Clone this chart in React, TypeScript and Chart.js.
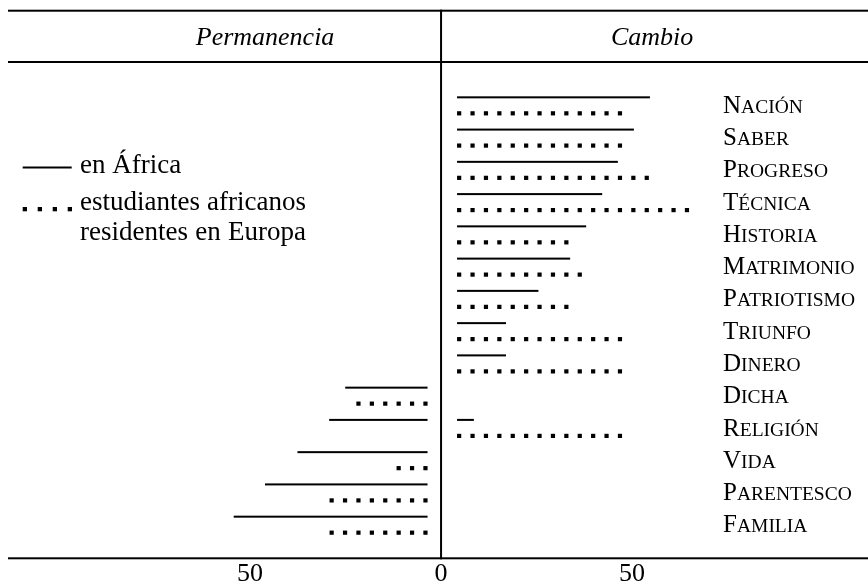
import { useEffect, useRef } from "react";
import { Chart, registerables } from "chart.js";

Chart.register(...registerables);

// ---- data ----
const categories = [
  "Nación", "Saber", "Progreso", "Técnica", "Historia", "Matrimonio", "Patriotismo",
  "Triunfo", "Dinero", "Dicha", "Religión", "Vida", "Parentesco", "Familia",
];
const cambioAfrica = [54.7, 50.5, 46.3, 42.2, 38.0, 33.8, 25.5, 17.0, 17.0, null, 8.6, null, null, null];
const cambioEuropa = [48.9, 48.9, 55.4, 64.6, 34.4, 38.6, 34.4, 47.1, 47.1, null, 47.1, null, null, null];
const permanenciaAfrica = [null, null, null, null, null, null, null, null, null, -25.1, -29.3, -37.6, -46.1, -54.3];
const permanenciaEuropa = [null, null, null, null, null, null, null, null, null, -23.2, null, -12.7, -29.4, -29.4];
const xTicks = [-50, 0, 50];
const panelTitles = ["Permanencia", "Cambio"];
const legendAfrica = ["en África"];
const legendEuropa = ["estudiantes africanos", "residentes en Europa"];

const SERIF = '"Liberation Serif", "Times New Roman", serif';

function drawSmallCaps(ctx: CanvasRenderingContext2D, text: string, x: number, y: number) {
  const first = text.charAt(0).toUpperCase();
  const rest = text.slice(1).toUpperCase();
  ctx.font = `25px ${SERIF}`;
  ctx.fillText(first, x, y);
  const w = ctx.measureText(first).width;
  ctx.font = `19.5px ${SERIF}`;
  ctx.fillText(rest, x + w, y);
}

const customDraw = {
  id: "customDraw",
  afterDraw(chart: any) {
    const ctx: CanvasRenderingContext2D = chart.ctx;
    const xs = chart.scales.x;
    const ys = chart.scales.y;
    const zero = xs.getPixelForValue(0);
    const W = chart.width;
    ctx.save();
    ctx.fillStyle = "#000";

    // rules
    const HEADER_Y = 62;
    ctx.fillRect(8, 9.7, W - 8, 2);
    ctx.fillRect(8, HEADER_Y - 1, W - 8, 2);
    ctx.fillRect(8, 557.3, W - 8, 2);
    ctx.fillRect(zero - 1, 9.7, 2, 549.6);

    // headers
    ctx.font = `italic 26px ${SERIF}`;
    ctx.textAlign = "center";
    ctx.textBaseline = "alphabetic";
    ctx.fillText(panelTitles[0], zero - 176, 45);
    ctx.fillText(panelTitles[1], zero + 211, 45);

    // bars: solid lines and dotted rows
    const GAP_R = 16;
    const GAP_L = 13.5;
    const PERIOD = 13.4;
    const DOT = 4.2;
    chart.data.datasets.forEach((ds: any, di: number) => {
      const meta = chart.getDatasetMeta(di);
      meta.data.forEach((el: any, j: number) => {
        const v = ds.data[j];
        if (v == null) return;
        const dir = v >= 0 ? 1 : -1;
        const start = el.base + dir * (dir > 0 ? GAP_R : GAP_L);
        const end = el.x;
        if (ds.lineStyle === "solid") {
          const a = Math.min(start, end);
          const b = Math.max(start, end);
          ctx.fillRect(a, el.y - 1, b - a, 2);
        } else {
          for (let k = 0; k < 100; k++) {
            const p = start + dir * k * PERIOD;
            const far = p + dir * DOT;
            if (dir * (far - end) > 1.5) break;
            ctx.fillRect(dir > 0 ? p : p - DOT, el.y - DOT / 2, DOT, DOT);
          }
        }
      });
    });

    // category labels (small caps)
    ctx.textAlign = "left";
    categories.forEach((c, i) => {
      const y = ys.getPixelForValue(i);
      drawSmallCaps(ctx, c, zero + 282, y + 7.6);
    });

    // legend
    ctx.fillRect(22.7, 166.5, 49, 2);
    for (let k = 0; k < 4; k++) ctx.fillRect(22.7 + k * 15, 207, 4.3, 4.3);
    ctx.font = `27px ${SERIF}`;
    ctx.fillText(legendAfrica[0], 80, 173);
    const targetW = 226;
    const baselines = [210, 240];
    legendEuropa.forEach((line, li) => {
      const words = line.split(" ");
      const widths = words.map((w) => ctx.measureText(w).width);
      const sum = widths.reduce((s, w) => s + w, 0);
      const space = ctx.measureText(" ").width;
      let gap = words.length > 1 ? (targetW - sum) / (words.length - 1) : 0;
      if (gap < space) gap = space;
      let x = 80;
      words.forEach((w, wi) => {
        ctx.fillText(w, x, baselines[li]);
        x += widths[wi] + gap;
      });
    });

    ctx.restore();
  },
};

export default function App() {
  const ref = useRef<HTMLCanvasElement | null>(null);
  useEffect(() => {
    document.body.style.margin = "0";
    const canvas = ref.current;
    if (!canvas) return;
    const chart = new Chart(canvas, {
      type: "bar",
      data: {
        labels: categories,
        datasets: [
          { label: legendAfrica[0], data: cambioAfrica, stack: "africa", lineStyle: "solid", backgroundColor: "rgba(0,0,0,0)", borderWidth: 0 } as any,
          { label: legendAfrica[0], data: permanenciaAfrica, stack: "africa", lineStyle: "solid", backgroundColor: "rgba(0,0,0,0)", borderWidth: 0 } as any,
          { label: legendEuropa.join(" "), data: cambioEuropa, stack: "europa", lineStyle: "dotted", backgroundColor: "rgba(0,0,0,0)", borderWidth: 0 } as any,
          { label: legendEuropa.join(" "), data: permanenciaEuropa, stack: "europa", lineStyle: "dotted", backgroundColor: "rgba(0,0,0,0)", borderWidth: 0 } as any,
        ],
      },
      options: {
        indexAxis: "y",
        animation: false,
        responsive: false,
        devicePixelRatio: 1,
        categoryPercentage: 0.992,
        barPercentage: 1,
        layout: { padding: { left: 8, right: 0, top: 89.2, bottom: 0 } },
        plugins: { legend: { display: false }, tooltip: { enabled: false }, title: { display: false } },
        scales: {
          x: {
            type: "linear",
            stacked: false,
            min: -113.4,
            max: 111.8,
            grid: { display: false, drawTicks: false },
            border: { display: false },
            afterBuildTicks: (scale: any) => {
              scale.ticks = xTicks.map((v) => ({ value: v }));
            },
            afterFit: (scale: any) => {
              scale.height = 44.2;
            },
            ticks: {
              padding: 17.5,
              color: "#000",
              font: { family: SERIF, size: 26 },
              maxRotation: 0,
              autoSkip: false,
              callback: (v: any) => String(Math.abs(Number(v))),
            },
          },
          y: {
            type: "category",
            display: false,
            grid: { display: false },
          },
        },
      } as any,
      plugins: [customDraw],
    });
    return () => chart.destroy();
  }, []);
  return (
    <div style={{ width: 868, height: 585, background: "#fff" }}>
      <canvas ref={ref} width={868} height={585} style={{ display: "block", width: 868, height: 585 }} />
    </div>
  );
}
